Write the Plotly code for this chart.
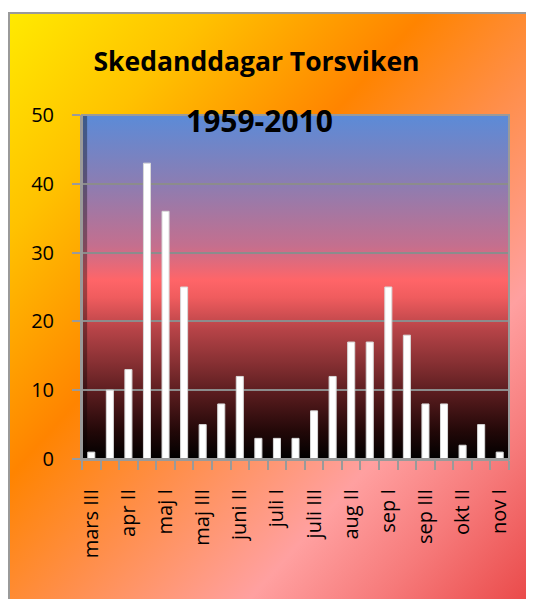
import base64
import plotly.graph_objects as go

categories = ["mars III", "apr I", "apr II", "apr III", "maj I", "maj II", "maj III",
              "juni I", "juni II", "juni III", "juli I", "juli II", "juli III",
              "aug I", "aug II", "aug III", "sep I", "sep II", "sep III",
              "okt I", "okt II", "okt III", "nov I"]
days = [1, 10, 13, 43, 36, 25, 5, 8, 12, 3, 3, 3, 7, 12, 17, 17, 25, 18, 8, 8, 2, 5, 1]
y_ticks = [0, 10, 20, 30, 40, 50]
title = "Skedanddagar Torsviken"
subtitle = "1959-2010"

# page body has an 8px margin, so the figure is 8px smaller each way
W, H = 526, 591
L, R, T, B = 74, 25, 107, 140
PW, PH = W - L - R, H - T - B


def svg_uri(svg):
    return "data:image/svg+xml;base64," + base64.b64encode(svg.encode()).decode()


bg_svg = f"""<svg xmlns='http://www.w3.org/2000/svg' width='{W}' height='{H}' viewBox='0 0 {W} {H}' preserveAspectRatio='none'>
<defs><linearGradient id='g' x1='0' y1='0' x2='1' y2='1'>
<stop offset='0' stop-color='#FFEA00'/>
<stop offset='0.18' stop-color='#FFC200'/>
<stop offset='0.38' stop-color='#FF8400'/>
<stop offset='0.52' stop-color='#FF8E48'/>
<stop offset='0.70' stop-color='#FFA0A0'/>
<stop offset='0.82' stop-color='#F67A7A'/>
<stop offset='1' stop-color='#E63A3A'/>
</linearGradient></defs>
<rect x='0' y='0' width='{W}' height='{H}' fill='white'/>
<rect x='1' y='5' width='{W+20}' height='{H+20}' fill='url(#g)' stroke='#9A9A9A' stroke-width='2'/>
</svg>"""

plot_svg = """<svg xmlns='http://www.w3.org/2000/svg' width='100' height='100' viewBox='0 0 100 100' preserveAspectRatio='none'>
<defs><linearGradient id='p' x1='0' y1='0' x2='0' y2='1'>
<stop offset='0' stop-color='#5B8BD8'/>
<stop offset='0.2' stop-color='#8C7DB2'/>
<stop offset='0.38' stop-color='#C46F8E'/>
<stop offset='0.48' stop-color='#FF6568'/>
<stop offset='0.53' stop-color='#F05C5E'/>
<stop offset='0.62' stop-color='#B84448'/>
<stop offset='0.72' stop-color='#873033'/>
<stop offset='0.82' stop-color='#541A1C'/>
<stop offset='0.92' stop-color='#220808'/>
<stop offset='1' stop-color='#000000'/>
</linearGradient></defs>
<rect x='0' y='0' width='100' height='100' fill='url(#p)'/>
<rect x='0' y='0' width='1.2' height='100' fill='black' fill-opacity='0.35'/>
</svg>"""

fig = go.Figure()
fig.add_trace(go.Bar(
    x=list(range(len(categories))), y=days, customdata=categories,
    width=0.38,
    marker=dict(color="#FFFFFF", line=dict(color="#D8D8D8", width=1)),
    hovertemplate="%{customdata}: %{y}<extra></extra>",
))

fig.add_layout_image(dict(
    source=svg_uri(bg_svg), xref="paper", yref="paper",
    x=-L / PW, y=(PH + T) / PH, sizex=W / PW, sizey=H / PH,
    xanchor="left", yanchor="top", sizing="stretch", layer="below"))
fig.add_layout_image(dict(
    source=svg_uri(plot_svg), xref="paper", yref="paper",
    x=0, y=1, sizex=1, sizey=1,
    xanchor="left", yanchor="top", sizing="stretch", layer="below"))

fig.add_shape(type="rect", xref="paper", yref="paper", x0=0, y0=0, x1=1, y1=1,
              line=dict(color="#9A9A9A", width=2), fillcolor="rgba(0,0,0,0)", layer="above")

fig.update_layout(
    width=W, height=H,
    margin=dict(l=L, r=R, t=T, b=B, autoexpand=False),
    paper_bgcolor="white", plot_bgcolor="rgba(0,0,0,0)",
    showlegend=False,
    title=dict(text=title, x=248.5 / W, xanchor="center", xref="container",
               y=1 - 54 / H, yanchor="middle", yref="container",
               font=dict(family="Open Sans", size=26.5, color="black", weight="bold")),
    font=dict(family="Open Sans", color="black"),
    bargap=0.6,
)
fig.add_annotation(text=subtitle, xref="paper", yref="paper",
                   x=(251.5 - L) / PW, y=(H - B - 112) / PH,
                   showarrow=False, xanchor="center", yanchor="middle",
                   font=dict(family="Open Sans", size=30, color="black", weight="bold"))

fig.update_xaxes(
    automargin=False,
    range=[-0.5, len(categories) - 0.5],
    tickmode="array",
    tickvals=list(range(0, len(categories), 2)),
    ticktext=categories[::2],
    tickangle=-90,
    ticks="", ticklabelstandoff=20,
    tickfont=dict(family="Open Sans", size=20, color="black"),
    showgrid=False, zeroline=False,
    showline=True, linecolor="#9A9A9A", linewidth=2,
    minor=dict(tickmode="array", tickvals=[i - 0.5 for i in range(len(categories) + 1)],
               ticks="outside", ticklen=9, tickcolor="#9A9A9A", tickwidth=2, showgrid=False),
)
fig.update_yaxes(
    automargin=False,
    range=[0, 50], tickmode="array", tickvals=y_ticks,
    ticks="outside", ticklen=8, tickcolor="#9A9A9A", tickwidth=2,
    ticklabelstandoff=14,
    tickfont=dict(family="Open Sans", size=20, color="black"),
    showgrid=True, gridcolor="#8C8C8C", gridwidth=2,
    zeroline=False, showline=True, linecolor="#9A9A9A", linewidth=2,
)

fig.write_html("out.html")
